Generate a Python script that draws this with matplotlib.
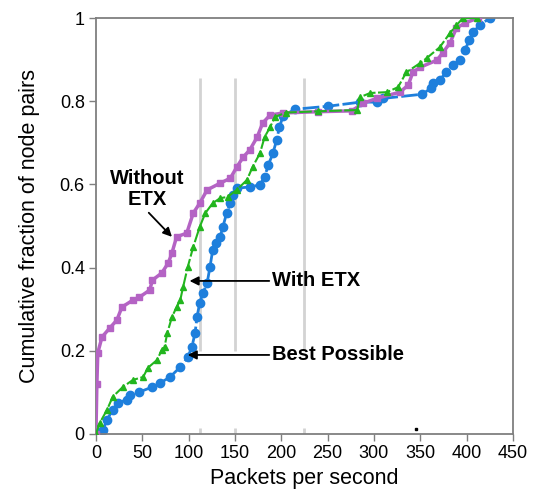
import matplotlib
matplotlib.use("Agg")
import matplotlib.pyplot as plt

plt.rcParams["font.family"] = ["Liberation Sans", "DejaVu Sans"]

# --- data -----------------------------------------------------------------
without_x = [0, 1, 2, 6.5, 15, 22.6, 28, 40, 47, 58, 61, 71, 78, 82, 87, 98,
             105, 112, 120, 134, 145, 152, 159, 166, 174, 180, 188, 202, 240,
             276, 288, 303, 328, 337, 342, 350, 368, 374, 382, 389, 398, 412]
without_y = [0, 0.12, 0.195, 0.233, 0.255, 0.274, 0.305, 0.322, 0.329, 0.346,
             0.37, 0.387, 0.411, 0.435, 0.474, 0.483, 0.531, 0.555, 0.587,
             0.603, 0.615, 0.642, 0.666, 0.683, 0.714, 0.748, 0.767, 0.772,
             0.775, 0.777, 0.795, 0.807, 0.822, 0.839, 0.87, 0.882, 0.899,
             0.916, 0.94, 0.976, 0.988, 1.0]

with_x = [0, 4, 12, 18, 29, 40, 51, 56, 66, 71, 74, 77, 82, 87, 91, 94, 99,
          105, 112, 118, 126, 134, 142, 152, 163, 169, 177, 182, 188, 193,
          205, 240, 282, 285, 296, 314, 326, 335, 350, 357, 371, 382, 389,
          396, 411]
with_y = [0, 0.026, 0.058, 0.089, 0.113, 0.13, 0.137, 0.159, 0.178, 0.202,
          0.209, 0.243, 0.281, 0.305, 0.322, 0.353, 0.401, 0.45, 0.498,
          0.531, 0.555, 0.567, 0.57, 0.587, 0.611, 0.642, 0.675, 0.714,
          0.738, 0.762, 0.773, 0.776, 0.779, 0.81, 0.82, 0.822, 0.834, 0.87,
          0.892, 0.904, 0.93, 0.964, 0.983, 1.0, 1.0]

best_x = [0, 4, 7.5, 12, 18, 24, 33, 37, 47, 61, 69, 80, 91, 99, 103.5, 107,
          109, 112, 115.5, 120, 123, 126, 130, 134, 137, 141, 145, 148, 152,
          166, 177, 182, 186, 191, 195, 198, 202, 215, 250, 285, 303, 310,
          352, 362, 364, 371, 378, 385, 393, 398, 403, 407, 414, 425]
best_y = [0, 0.005, 0.01, 0.034, 0.058, 0.075, 0.082, 0.094, 0.101, 0.113,
          0.122, 0.137, 0.161, 0.184, 0.209, 0.243, 0.281, 0.315, 0.339,
          0.363, 0.401, 0.442, 0.459, 0.474, 0.498, 0.531, 0.555, 0.575,
          0.591, 0.594, 0.599, 0.618, 0.647, 0.675, 0.707, 0.738, 0.765,
          0.781, 0.788, 0.798, 0.798, 0.807, 0.817, 0.832, 0.844, 0.851, 0.87,
          0.887, 0.899, 0.923, 0.947, 0.966, 0.983, 1.0]

grid_x = [112, 150, 225]
x_ticks = [0, 50, 100, 150, 200, 250, 300, 350, 400, 450]
y_ticks = [0, 0.2, 0.4, 0.6, 0.8, 1.0]
y_tick_labels = ["0", "0.2", "0.4", "0.6", "0.8", "1"]

PURPLE = "#B463C4"
GREEN = "#22B51E"
BLUE = "#1E7FDC"
FRAME = "#7F7F7F"

fig = plt.figure(figsize=(5.36, 5.04), dpi=100)
ax = fig.add_axes([0.179, 0.139, 0.778, 0.825])

# light gray vertical guide lines
ax.vlines(grid_x, 0.2, 0.855, color="#D3D3D3", lw=2, zorder=1)
ax.vlines(grid_x, 0.0, 0.015, color="#D3D3D3", lw=2, zorder=1)
ax.plot([345], [0.012], "s", color="black", ms=1.5, zorder=1)

ax.plot(without_x, without_y, color=PURPLE, lw=2.5, marker="s", ms=5,
        zorder=3)
ax.plot(with_x, with_y, color=GREEN, lw=1.5, ls=(0, (6, 1.2)), marker="^",
        ms=5, zorder=4)
ax.plot(best_x, best_y, color=BLUE, lw=2.0, ls=(0, (6, 1.2)), marker="o",
        ms=6, zorder=2)

# annotations
bold = dict(fontsize=14.5, fontweight="bold", color="black")
arrow = dict(arrowstyle="-|>", color="black", lw=1.3, mutation_scale=13,
             shrinkA=0, shrinkB=0)
ax.text(55, 0.589, "Without\nETX", ha="center", va="center",
        linespacing=1.1, **bold)
ax.annotate("", xy=(82, 0.474), xytext=(57, 0.532), arrowprops=arrow)
ax.annotate("With ETX", xy=(101, 0.368), xytext=(190, 0.368),
            va="center", ha="left", arrowprops=arrow, **bold)
ax.annotate("Best Possible", xy=(99, 0.19), xytext=(190, 0.19),
            va="center", ha="left", arrowprops=arrow, **bold)

ax.set_xlim(0, 450)
ax.set_ylim(0, 1)
ax.set_xticks(x_ticks)
ax.set_yticks(y_ticks)
ax.set_yticklabels(y_tick_labels)
ax.tick_params(labelsize=13, length=5, width=1, color=FRAME, pad=3)
for s in ax.spines.values():
    s.set_color(FRAME)
    s.set_linewidth(1.3)

ax.set_xlabel("Packets per second", fontsize=15.5, labelpad=4)
ax.set_ylabel("Cumulative fraction of node pairs", fontsize=15.5, labelpad=14)

fig.savefig("out.png", dpi=100)
